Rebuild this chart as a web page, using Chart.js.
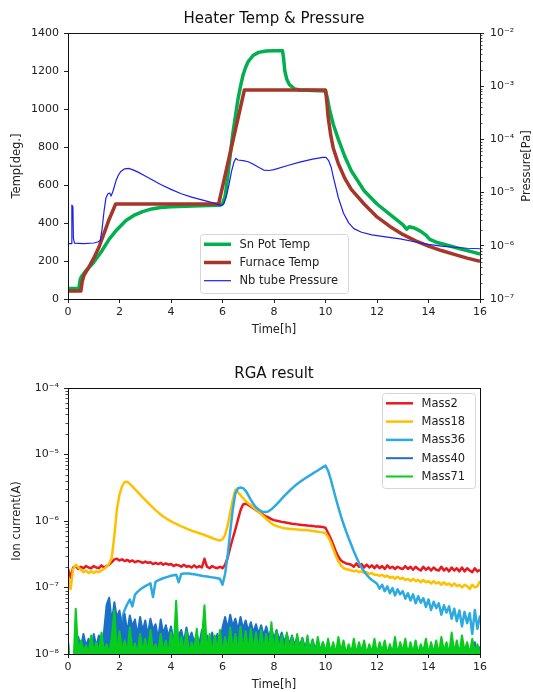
<!DOCTYPE html>
<html>
<head>
<meta charset="utf-8">
<script src="https://cdn.jsdelivr.net/npm/chart.js@4.4.1/dist/chart.umd.min.js"></script>
<style>
  body { margin: 0; background: #fff; }
  canvas { position: absolute; left: 0; }
  #heater { top: 0; }
  #rga { top: 340px; }
</style>
</head>
<body>
<canvas id="heater" width="533" height="340"></canvas>
<canvas id="rga" width="533" height="352"></canvas>
<script>
// ---- Heater Temp & Pressure ----
const snTime = [0, 0.42, 0.47, 0.52, 0.7, 0.97, 1.3, 1.6, 1.9, 2.25, 2.6, 2.9, 3.25, 3.6, 4.0, 4.85, 5.5, 5.9,
  6.0, 6.1, 6.2, 6.3, 6.4, 6.5, 6.6, 6.7, 6.8, 6.9, 7.0, 7.2, 7.4, 7.7, 8.0, 8.33, 8.37, 8.42, 8.5, 8.6, 8.8, 9.0, 9.5,
  10.0, 10.07, 10.15, 10.3, 10.5, 10.75, 11.0, 11.5, 12.0, 12.5, 13.0, 13.15, 13.25, 13.45, 13.7, 13.9, 14.05, 14.3,
  14.8, 15.3, 15.7, 16.0];
const snTemp = [55, 55, 100, 117, 150, 188, 250, 315, 365, 413, 443, 460, 474, 482, 486, 490, 492, 494,
  500, 540, 640, 760, 870, 960, 1050, 1120, 1180, 1220, 1250, 1283, 1298, 1305, 1307, 1307, 1270, 1200, 1155, 1128, 1106, 1100, 1098,
  1095, 1060, 1000, 920, 840, 750, 675, 570, 500, 445, 392, 368, 380, 374, 356, 336, 314, 299,
  280, 262, 248, 236];

const furnaceTime = [0, 0.5, 0.55, 0.62, 0.8, 1.0, 1.2, 1.4, 1.6, 1.85, 5.85, 6.85, 10.0, 10.05, 10.1, 10.2, 10.3,
  10.5, 10.75, 11.0, 11.5, 12.0, 12.5, 13.0, 13.5, 14.0, 14.5, 15.0, 15.5, 16.0];
const furnaceTemp = [42, 42, 90, 125, 165, 215, 272, 345, 420, 500, 500, 1100, 1100, 1040, 960, 865, 795,
  712, 635, 577, 500, 432, 382, 340, 306, 278, 255, 235, 215, 198];

const nbTime = [0, 0.13, 0.15, 0.19, 0.21, 0.25, 0.6, 1.0, 1.15, 1.25, 1.32, 1.4, 1.47, 1.55, 1.62, 1.67, 1.73, 1.8,
  1.87, 1.95, 2.05, 2.2, 2.35, 2.5, 2.7, 3.0, 3.3, 3.6, 4.0, 4.4, 4.8, 5.2, 5.6, 5.95, 6.05, 6.15, 6.25, 6.35, 6.45,
  6.52, 6.6, 6.8, 7.0, 7.2, 7.4, 7.6, 7.8, 8.0, 8.5, 9.0, 9.5, 9.9, 10.02, 10.12, 10.22, 10.3, 10.5, 10.7, 10.9,
  11.1, 11.4, 11.8, 12.4, 12.9, 13.5, 14.0, 14.5, 15.0, 15.5, 16.0];
const nbPressure = [1.1e-6, 1.1e-6, 5.8e-6, 5.4e-6, 1.4e-6, 1.12e-6, 1.1e-6, 1.13e-6, 1.18e-6, 1.25e-6, 2.0e-6, 4.5e-6,
  7.8e-6, 9.5e-6, 9.8e-6, 8.6e-6, 1.0e-5, 1.3e-5, 1.7e-5, 2.1e-5, 2.5e-5, 2.8e-5, 2.85e-5, 2.7e-5, 2.45e-5, 2.05e-5,
  1.7e-5, 1.42e-5, 1.15e-5, 9.5e-6, 8.2e-6, 7.3e-6, 6.5e-6, 5.7e-6, 6.2e-6, 8.5e-6, 1.4e-5, 2.5e-5, 3.8e-5, 4.4e-5,
  4.1e-5, 4.0e-5, 3.8e-5, 3.4e-5, 3.0e-5, 2.65e-5, 2.6e-5, 2.7e-5, 3.2e-5, 3.75e-5, 4.25e-5, 4.6e-5, 4.6e-5, 4.0e-5,
  3.0e-5, 2.0e-5, 8.0e-6, 4.1e-6, 2.7e-6, 2.1e-6, 1.8e-6, 1.6e-6, 1.45e-6, 1.35e-6, 1.18e-6, 1.06e-6, 9.9e-7, 9.4e-7,
  9.0e-7, 8.8e-7];

const tempTicks = { min: 0, max: 1400, step: 200 };
const pressureTicks = [1e-7, 1e-6, 1e-5, 1e-4, 1e-3, 1e-2];
const timeTicks = { min: 0, max: 16, step: 2 };

// ---- RGA result, sampled every 0.1 h, values in units of 1e-8 A ----
const rgaTime = Array.from({ length: 161 }, (_, i) => i / 10);
const mass2 = [
  19, 14, 20, 21, 19, 20.5, 19.5, 21, 20, 19.5,
  21, 20, 19.5, 21.5, 20, 21, 22, 24, 26.5, 27,
  25.5, 26.5, 25, 26, 24.5, 25.5, 24, 25, 24.5, 23.5,
  24.5, 23.5, 24, 22.5, 23.5, 22.5, 23.5, 22, 23, 22,
  22.5, 21, 22, 21.5, 20.5, 22, 20.5, 21, 20, 21.5,
  20, 21, 20, 27, 20.5, 19.5, 21, 20, 19.5, 20.5,
  19.5, 22, 28, 40, 55, 75, 105, 145, 178, 182,
  175, 165, 155, 146, 138, 130, 123, 117, 112, 107,
  103, 101, 99, 97, 95.5, 94, 92.5, 91, 90, 89,
  88, 87, 86.5, 85.5, 85, 84, 83, 82.5, 82, 81,
  79, 66, 55, 44, 35, 29, 25.5, 24, 23, 22.5,
  22, 20.5, 23, 20.5, 22.5, 20, 22, 20, 21.5, 19.5,
  21.5, 19.5, 21, 19, 21.5, 19.5, 20.5, 19, 20.5, 19.5,
  19, 21, 19, 20.5, 18.5, 20.5, 19, 18, 20.5, 18.5,
  20, 18, 20, 18.5, 18, 20.5, 18, 19.5, 17.5, 20,
  18, 19.5, 17.5, 20, 17.5, 19.5, 18, 17, 19.5, 17.5,
  18.5];
const mass18 = [
  15, 9.5, 19, 22, 20, 18.5, 17, 18, 16.5, 17.5,
  16.5, 17.5, 17, 18, 19, 20.5, 23, 28, 60, 150,
  250, 335, 385, 390, 362, 332, 302, 274, 249, 227,
  207, 189, 173, 159, 146, 135, 125, 117, 110, 104,
  99, 94.5, 90.5, 86.5, 83, 80, 77, 74, 71.5, 69.5,
  67.5, 65.5, 63.5, 61.5, 59.5, 57.5, 55.5, 53.5, 52, 51,
  53, 62, 85, 135, 210, 295, 270, 245, 220, 200,
  185, 172, 160, 148, 137, 127, 117, 108, 99, 92,
  87, 84, 81.5, 79.5, 78, 77, 76, 75.5, 75, 74.5,
  74, 73.5, 73, 72.5, 72, 71, 70, 69, 68, 67,
  65.5, 58, 48, 38, 30, 24.5, 21.5, 19.5, 19, 18.5,
  18, 17.5, 18, 17, 17.5, 16.5, 17, 16, 16.5, 15.5,
  15.5, 15, 15.5, 14.5, 15, 14, 14.5, 13.5, 14.5, 13.5,
  14, 13, 13.5, 12.5, 13.5, 12.5, 13, 12, 13, 12,
  12.5, 11.5, 12.5, 11.5, 12, 11, 12, 11, 11.5, 10.5,
  11.5, 10.5, 11, 10, 11, 10.5, 9.5, 11, 10, 10.5,
  12.5];
const mass36 = [
  0.5, 0.5, 0.5, 0.5, 0.5, 0.5, 0.5, 0.5, 0.5, 0.5,
  0.5, 0.5, 0.5, 0.5, 0.5, 0.5, 0.5, 0.5, 0.6, 0.9,
  2.0, 3.4, 4.6, 5.6, 6.6, 5.2, 7.8, 8.6, 9.3, 9.9,
  10.5, 11, 11.6, 7.2, 12.2, 12.8, 13.3, 13.8, 14.2, 14.6,
  15, 15.3, 15.6, 12, 16, 16.2, 16.3, 16.2, 16, 15.8,
  15.6, 15.3, 15, 14.8, 14.6, 14.4, 14.2, 14, 13.8, 13.5,
  11, 16, 30, 70, 150, 260, 310, 318, 312, 285,
  245, 208, 180, 161, 149, 141, 136, 136, 141, 150,
  163, 178, 196, 216, 238, 261, 285, 310, 335, 360,
  385, 410, 435, 460, 487, 515, 545, 575, 610, 645,
  680, 570, 430, 305, 220, 160, 118, 90, 70, 55,
  44, 35, 28.5, 23.5, 20, 17.5, 15.5, 14, 13, 12.2,
  11.4, 9.6, 11, 8.8, 10.4, 8.2, 9.8, 7.6, 9.4, 7.9,
  8.8, 6.8, 8.2, 6.4, 7.9, 5.8, 7.4, 5.9, 6.9, 5.1,
  6.6, 4.6, 6.1, 4.9, 5.8, 3.9, 5.4, 4.2, 5.2, 3.4,
  4.8, 3.1, 4.5, 2.6, 4.3, 2.9, 4.1, 2.0, 4.6, 2.4,
  3.8];
const mass40 = [
  1.6, 0.5, 0.5, 1.3, 1.8, 1.2, 2.0, 1.3, 1.7, 1.15,
  2.0, 1.3, 1.9, 1.2, 2.2, 5.5, 7.0, 3.0, 6.0, 3.5,
  4.5, 2.4, 4.0, 2.1, 3.8, 2.6, 3.3, 1.9, 3.6, 2.2,
  3.2, 1.9, 3.4, 2.3, 2.8, 1.7, 3.3, 2.0, 2.7, 1.8,
  2.6, 1.6, 2.4, 1.9, 2.3, 1.5, 2.5, 1.6, 2.1, 1.5,
  2.0, 1.4, 2.3, 1.5, 1.9, 1.4, 2.1, 1.3, 2.0, 1.4,
  2.5, 3.6, 2.4, 3.9, 2.6, 3.4, 2.3, 3.6, 2.4, 3.2,
  2.2, 3.0, 2.1, 2.8, 2.0, 2.7, 1.9, 2.6, 1.8, 2.4,
  1.7, 2.3, 1.6, 2.1, 1.5, 2.0, 1.4, 1.9, 1.35, 1.8,
  1.3, 1.75, 1.25, 1.6, 1.2, 1.65, 1.15, 1.55, 1.1, 1.5,
  1.1, 1.45, 1.05, 1.35, 1.0, 1.3, 0.95, 1.15, 0.8, 1.0,
  0.7, 0.8, 0.6, 0.9, 0.6, 0.8, 0.6, 1.1, 0.6, 0.8,
  0.6, 0.9, 0.6, 0.8, 0.6, 1.2, 0.6, 0.8, 0.6, 0.9,
  0.6, 0.8, 0.6, 1.1, 0.6, 0.8, 0.6, 0.9, 0.6, 0.8,
  0.6, 1.0, 0.6, 0.8, 0.6, 0.9, 0.6, 1.3, 0.6, 0.8,
  0.6, 1.0, 0.6, 0.8, 0.6, 1.4, 0.6, 0.9, 1.5, 0.7,
  1.3];
const mass71 = [
  1.5, 0.5, 0.5, 4.8, 1.0, 1.6, 1.1, 1.35, 1.0, 1.9,
  1.05, 1.5, 1.0, 2.1, 1.1, 1.4, 1.0, 1.8, 4.5, 1.0,
  2.2, 1.05, 1.6, 1.0, 2.5, 1.1, 1.45, 1.0, 2.0, 1.05,
  1.7, 1.0, 2.3, 1.1, 1.4, 1.0, 2.0, 1.05, 1.6, 1.0,
  2.1, 1.1, 6.3, 1.0, 1.8, 1.05, 2.2, 1.0, 1.5, 1.1,
  2.4, 1.0, 1.7, 5.4, 1.05, 2.0, 1.0, 1.9, 1.1, 2.3,
  1.0, 1.8, 1.05, 2.5, 1.1, 2.0, 1.0, 2.6, 1.1, 2.2,
  1.05, 2.4, 1.1, 2.1, 1.0, 2.3, 1.15, 2.0, 1.05, 3.0,
  1.0, 2.2, 1.1, 1.9, 1.0, 2.1, 1.15, 1.8, 1.0, 2.0,
  1.1, 1.7, 1.0, 1.9, 1.05, 1.6, 1.0, 1.8, 1.1, 1.5,
  1.0, 1.7, 1.05, 1.5, 1.0, 1.8, 1.1, 1.6, 1.0, 1.4,
  1.05, 1.7, 1.0, 1.5, 1.1, 1.6, 1.0, 1.4, 1.05, 1.7,
  1.0, 1.5, 1.1, 1.6, 1.0, 1.4, 1.05, 1.8, 1.0, 1.5,
  1.1, 1.7, 1.0, 1.5, 1.05, 1.6, 1.0, 1.4, 1.1, 1.7,
  1.0, 1.5, 1.05, 1.6, 1.0, 1.8, 1.1, 1.5, 1.0, 2.1,
  1.05, 1.6, 1.0, 1.9, 1.1, 1.5, 1.0, 1.7, 1.05, 1.4,
  1.0];
const ionTicks = [1e-8, 1e-7, 1e-6, 1e-5, 1e-4];

// ---- helpers ----
const FONT = '"DejaVu Sans"';
Chart.defaults.font.family = FONT;
Chart.defaults.font.size = 11;
Chart.defaults.color = '#222';

const sup = { '-': '\u207B', '0': '\u2070', '1': '\u00B9', '2': '\u00B2', '3': '\u00B3',
  '4': '\u2074', '5': '\u2075', '6': '\u2076', '7': '\u2077', '8': '\u2078', '9': '\u2079' };
function powLabel(v) {
  const e = Math.round(Math.log10(v));
  return '10' + String(e).split('').map(c => sup[c]).join('');
}
function pairs(xs, ys, k = 1) {
  return xs.map((x, i) => ({ x: x, y: ys[i] * k }));
}

// title centred over the plot area
const plotTitle = {
  id: 'plotTitle',
  afterDraw(chart, args, o) {
    if (!o || !o.text) return;
    const { ctx, chartArea: a } = chart;
    ctx.save();
    ctx.font = '15px ' + FONT;
    ctx.fillStyle = '#111';
    ctx.textAlign = 'center';
    ctx.textBaseline = 'middle';
    ctx.fillText(o.text, (a.left + a.right) / 2, o.y);
    ctx.restore();
  }
};

// frame round the plot area
const frame = {
  id: 'frame',
  afterDatasetsDraw(chart) {
    const { ctx, chartArea: a } = chart;
    ctx.save();
    ctx.strokeStyle = '#111';
    ctx.lineWidth = 1;
    ctx.strokeRect(a.left + 0.5, a.top + 0.5, a.right - a.left, a.bottom - a.top);
    ctx.restore();
  }
};

// minor ticks on log axes (2..9 of each decade)
const minorTicks = {
  id: 'minorTicks',
  afterDraw(chart) {
    const ctx = chart.ctx;
    Object.values(chart.scales).forEach(s => {
      if (s.type !== 'logarithmic') return;
      const lo = Math.round(Math.log10(s.min)), hi = Math.round(Math.log10(s.max));
      const left = s.position === 'left';
      const x0 = left ? s.right : s.left;
      ctx.save();
      ctx.strokeStyle = '#222';
      ctx.lineWidth = 0.8;
      ctx.beginPath();
      for (let e = lo; e < hi; e++) {
        for (let m = 2; m <= 9; m++) {
          const y = Math.round(s.getPixelForValue(m * Math.pow(10, e))) + 0.5;
          ctx.moveTo(x0, y);
          ctx.lineTo(x0 + (left ? -2.5 : 2.5), y);
        }
      }
      ctx.stroke();
      ctx.restore();
    });
  }
};

// matplotlib-like framed legend
const boxLegend = {
  id: 'boxLegend',
  afterDatasetsDraw(chart, args, o) {
    if (!o || o.left === undefined) return;
    const ctx = chart.ctx;
    ctx.save();
    ctx.beginPath();
    ctx.roundRect(o.left + 0.5, o.top + 0.5, o.width, o.height, 3);
    ctx.globalAlpha = 0.8;
    ctx.fillStyle = '#fff';
    ctx.fill();
    ctx.globalAlpha = 1;
    ctx.strokeStyle = '#d6d6d6';
    ctx.lineWidth = 1;
    ctx.stroke();
    ctx.font = '11.5px ' + FONT;
    ctx.textBaseline = 'middle';
    ctx.textAlign = 'left';
    chart.data.datasets.forEach((ds, i) => {
      const y = o.top + o.firstRow + i * o.rowGap;
      ctx.strokeStyle = ds.borderColor;
      ctx.lineWidth = ds.borderWidth;
      ctx.beginPath();
      ctx.moveTo(o.left + 4, y);
      ctx.lineTo(o.left + 31, y);
      ctx.stroke();
      ctx.fillStyle = '#222';
      ctx.fillText(ds.label, o.left + 39.5, y + 0.5);
    });
    ctx.restore();
  }
};

// right axis title reading bottom-to-top like matplotlib
const rightTitle = {
  id: 'rightTitle',
  afterDraw(chart, args, o) {
    if (!o || !o.text) return;
    const { ctx, chartArea: a } = chart;
    ctx.save();
    ctx.translate(o.x, (a.top + a.bottom) / 2);
    ctx.rotate(-Math.PI / 2);
    ctx.font = '11.5px ' + FONT;
    ctx.fillStyle = '#222';
    ctx.textAlign = 'center';
    ctx.textBaseline = 'middle';
    ctx.fillText(o.text, 0, 0);
    ctx.restore();
  }
};

const tickGrid = { drawOnChartArea: false, drawTicks: true, tickLength: 4, tickColor: '#222', tickWidth: 1 };
const axisTitleFont = { size: 11.5 };

function timeAxis(height, padBottom) {
  return {
    type: 'linear', position: 'bottom',
    min: timeTicks.min, max: timeTicks.max,
    ticks: { stepSize: timeTicks.step, padding: 3, callback: v => v, maxRotation: 0 },
    grid: tickGrid, border: { display: false },
    title: { display: true, text: 'Time[h]', font: axisTitleFont, padding: { top: 0, bottom: padBottom } },
    afterFit: s => { s.height = height; }
  };
}

// ---- chart 1 ----
new Chart(document.getElementById('heater'), {
  type: 'line',
  data: {
    datasets: [{
      label: 'Sn Pot Temp', data: pairs(snTime, snTemp), yAxisID: 'y',
      borderColor: '#00b04f', borderWidth: 3.5, order: 3
    }, {
      label: 'Furnace Temp', data: pairs(furnaceTime, furnaceTemp), yAxisID: 'y',
      borderColor: '#a6362a', borderWidth: 3.5, order: 2
    }, {
      label: 'Nb tube Pressure', data: pairs(nbTime, nbPressure), yAxisID: 'y1',
      borderColor: '#1e1eeb', borderWidth: 1.2, order: 1
    }]
  },
  options: {
    responsive: false, animation: false, devicePixelRatio: 1,
    elements: { point: { radius: 0 }, line: { tension: 0, borderCapStyle: 'butt', borderJoinStyle: 'round' } },
    layout: { padding: { top: 33, left: 0, right: 0, bottom: 0 } },
    plugins: {
      legend: { display: false }, tooltip: { enabled: false },
      plotTitle: { text: 'Heater Temp & Pressure', y: 19 },
      boxLegend: { left: 200, top: 234, width: 148, height: 59, firstRow: 10.3, rowGap: 18.2 },
      rightTitle: { text: 'Pressure[Pa]', x: 527 }
    },
    scales: {
      x: timeAxis(41, 3.1),
      y: {
        position: 'left', min: tempTicks.min, max: tempTicks.max,
        ticks: { stepSize: tempTicks.step, padding: 5, callback: v => v },
        grid: tickGrid, border: { display: false },
        title: { display: true, text: 'Temp[deg.]', font: axisTitleFont, padding: { top: 10, bottom: 0 } },
        afterFit: s => { s.width = 68; }
      },
      y1: {
        type: 'logarithmic', position: 'right', min: pressureTicks[0], max: pressureTicks[pressureTicks.length - 1],
        afterBuildTicks: s => { s.ticks = pressureTicks.map(v => ({ value: v })); },
        ticks: { padding: 6, callback: v => powLabel(v), autoSkip: false },
        grid: tickGrid, border: { display: false },
        afterFit: s => { s.width = 53; }
      }
    }
  },
  plugins: [minorTicks, frame, boxLegend, rightTitle, plotTitle]
});

// ---- chart 2 ----
// the two noise-floor channels are dense enough to read as a filled band
const rgaSeries = [
  { label: 'Mass2', values: mass2, color: '#e8191f', width: 2.5, band: false },
  { label: 'Mass18', values: mass18, color: '#ffc000', width: 2.5, band: false },
  { label: 'Mass36', values: mass36, color: '#2daae1', width: 2.5, band: false },
  { label: 'Mass40', values: mass40, color: '#1a70c8', width: 2, band: true },
  { label: 'Mass71', values: mass71, color: '#07cc1c', width: 2, band: true }
];

new Chart(document.getElementById('rga'), {
  type: 'line',
  data: {
    datasets: rgaSeries.map((s, i) => ({
      label: s.label, data: pairs(rgaTime, s.values, 1e-8),
      borderColor: s.color, borderWidth: s.width, order: rgaSeries.length - i,
      fill: s.band ? 'start' : false, backgroundColor: s.color
    }))
  },
  options: {
    responsive: false, animation: false, devicePixelRatio: 1,
    elements: { point: { radius: 0 }, line: { tension: 0, borderCapStyle: 'butt', borderJoinStyle: 'round' } },
    layout: { padding: { top: 48, left: 0, right: 53, bottom: 0 } },
    plugins: {
      legend: { display: false }, tooltip: { enabled: false },
      plotTitle: { text: 'RGA result', y: 34 },
      boxLegend: { left: 382, top: 53, width: 93, height: 95, firstRow: 10.3, rowGap: 18.3 }
    },
    scales: {
      x: timeAxis(38, 0),
      y: {
        type: 'logarithmic', position: 'left', min: ionTicks[0], max: ionTicks[ionTicks.length - 1],
        afterBuildTicks: s => { s.ticks = ionTicks.map(v => ({ value: v })); },
        ticks: { padding: 5, callback: v => powLabel(v), autoSkip: false },
        grid: tickGrid, border: { display: false },
        title: { display: true, text: 'Ion current(A)', font: axisTitleFont, padding: { top: 10, bottom: 0 } },
        afterFit: s => { s.width = 68; }
      }
    }
  },
  plugins: [minorTicks, frame, boxLegend, plotTitle]
});
</script>
</body>
</html>
